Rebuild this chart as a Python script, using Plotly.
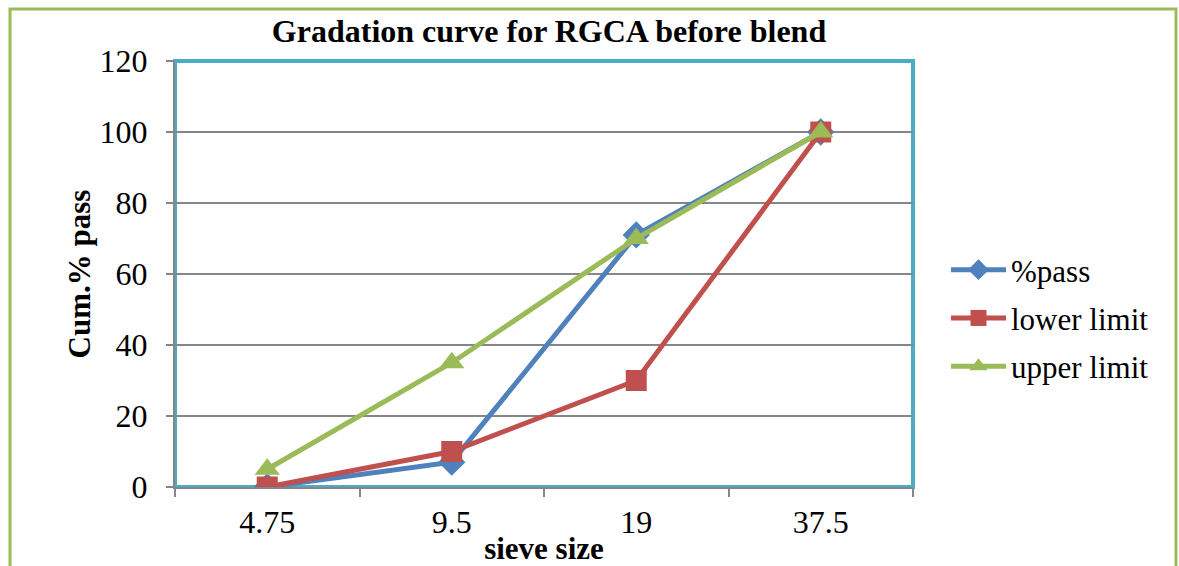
import plotly.graph_objects as go

sieve = ["4.75", "9.5", "19", "37.5"]
pct_pass = [0, 7, 71, 100]
lower_limit = [0, 10, 30, 100]
upper_limit = [5, 35, 70, 100]
y_ticks = [0, 20, 40, 60, 80, 100, 120]

FONT = "Times New Roman"

fig = go.Figure()
fig.add_trace(go.Scatter(x=sieve, y=pct_pass, name="%pass", mode="lines+markers",
                         legendgroup="a",
                         line=dict(color="#4F81BD", width=5),
                         marker=dict(symbol="diamond", size=21, color="#4F81BD")))
fig.add_trace(go.Scatter(x=sieve, y=lower_limit, name="lower limit", mode="lines+markers",
                         legendgroup="b",
                         line=dict(color="#C0504D", width=5),
                         marker=dict(symbol="square", size=21, color="#C0504D")))
fig.add_trace(go.Scatter(x=sieve, y=upper_limit, name="upper limit", mode="lines+markers",
                         legendgroup="c",
                         line=dict(color="#9BBB59", width=5),
                         marker=dict(symbol="triangle-up", size=22, color="#9BBB59")))

L, R, T, B = 175, 913, 61, 487
W, H = 1179, 566
pw, ph = R - L, B - T

def px(x):
    return (x - L) / pw

def py(y):
    return (B - y) / ph

fig.update_layout(
    width=W, height=H,
    margin=dict(l=L, r=W - R, t=T, b=H - B, pad=0, autoexpand=False),
    paper_bgcolor="white", plot_bgcolor="white",
    font=dict(family=FONT, size=32, color="black"),
    title=dict(text="<b>Gradation curve for RGCA before blend</b>", x=549 / W, xref="container",
               xanchor="center", y=1 - 31 / H, yanchor="middle",
               font=dict(family=FONT, size=32, color="black")),
    showlegend=True,
    legend=dict(x=px(946), y=py(318), xanchor="left", yanchor="middle",
                font=dict(family=FONT, size=31, color="black"),
                bgcolor="rgba(0,0,0,0)", itemwidth=55, tracegroupgap=5,
                traceorder="grouped"),
    xaxis=dict(type="category", categoryorder="array", categoryarray=sieve,
               automargin=False,
               showgrid=False, showline=True, linecolor="#868686", linewidth=2,
               ticks="outside", tickson="boundaries", ticklen=8, tickcolor="#868686",
               tickwidth=2, tickfont=dict(family=FONT, size=32, color="black"),
               ticklabelstandoff=6,
               range=[-0.5, 3.5],
               title=dict(text="<b>sieve size</b>", standoff=0,
                          font=dict(family=FONT, size=31, color="black"))),
    yaxis=dict(range=[0, 120], tickvals=y_ticks, showgrid=True, gridcolor="#868686",
               automargin=False,
               gridwidth=1.5, zeroline=False, showline=True, linecolor="#868686",
               linewidth=2, ticks="outside", ticklen=7, tickcolor="#868686", tickwidth=2,
               tickfont=dict(family=FONT, size=32, color="black"),
               ticklabelstandoff=12,
               title=dict(text="<b>Cum.% pass</b>", standoff=0,
                          font=dict(family=FONT, size=31, color="black"))),
)

# outer chart border
fig.add_shape(type="rect", xref="paper", yref="paper",
              x0=px(10), x1=px(1176), y0=py(580), y1=py(9),
              line=dict(color="#9BBB59", width=3), layer="below")
# plot area border
fig.add_shape(type="rect", xref="paper", yref="paper",
              x0=0, x1=1, y0=0, y1=1,
              line=dict(color="#4BACC6", width=4), layer="below")

fig.write_html("out.html")
